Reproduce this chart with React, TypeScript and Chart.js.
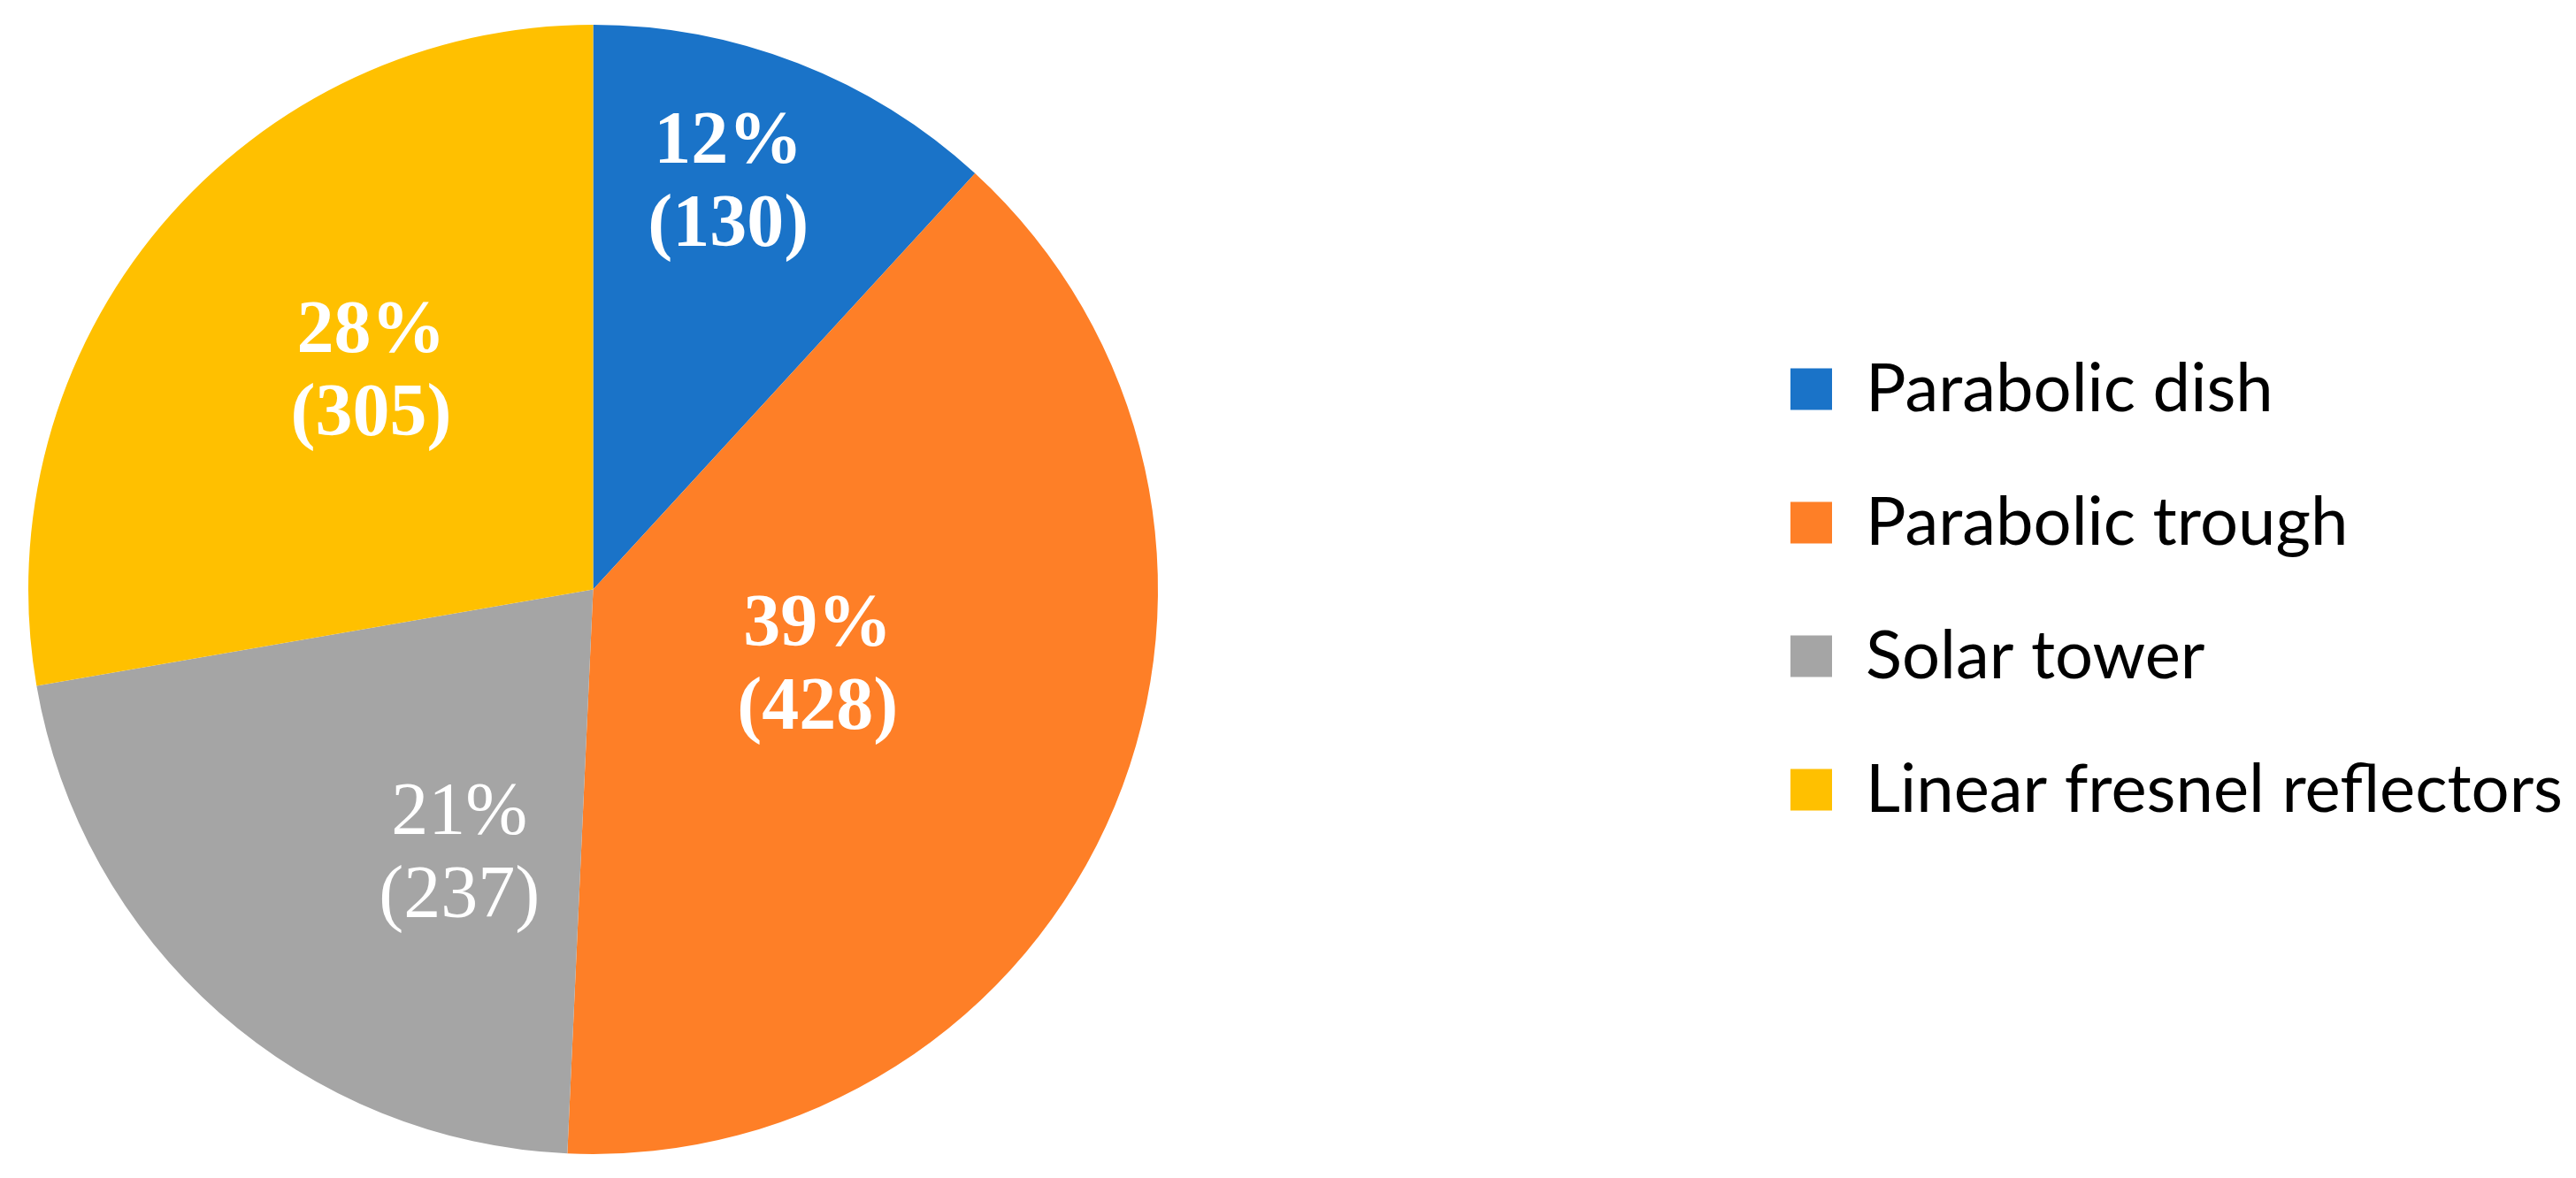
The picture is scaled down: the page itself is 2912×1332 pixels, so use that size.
import React, { useEffect, useRef } from 'react';
import { Chart, registerables } from 'chart.js';

Chart.register(...registerables);

// ---- data ----
const categories = ['Parabolic dish', 'Parabolic trough', 'Solar tower', 'Linear fresnel reflectors'];
const counts = [130, 428, 237, 305];
const percentLabels = ['12%', '39%', '21%', '28%'];

// ---- styling ----
const sliceColors = ['#1a73c8', '#fe7f27', '#a5a5a5', '#ffc000'];
const labelBold = [true, true, false, true];
// where each data label sits inside its slice: fraction of the slice's sweep, fraction of the radius
const labelSweepFrac = [0.431, 0.471, 0.313, 0.544];
const labelRadiusFrac = [0.76, 0.419, 0.524, 0.551];

const W = 2912;
const H = 1332;
const PAD_TOP = 28;
const PAD_BOTTOM = 27;
const PAD_LEFT = 32;
const PIE_RIGHT = 1309;
const LEGEND_BOX_LEFT = 2024;
const LEGEND_BOX = 47;
const LEGEND_ROW_STEP = 151;
const LEGEND_TARGET_W = 790;
const LEGEND_FAMILY = 'Lato';
const LABEL_FONT = 84;
const LABEL_LINE = 94;

export default function App() {
  const ref = useRef<HTMLCanvasElement | null>(null);

  useEffect(() => {
    const canvas = ref.current;
    if (!canvas) return;

    const m = document.createElement('canvas').getContext('2d')!;
    m.font = `100px ${LEGEND_FAMILY}`;
    const w100 = Math.max(...categories.map((c) => m.measureText(c).width));
    const fontSize = Math.round((100 * LEGEND_TARGET_W) / w100);
    m.font = `${fontSize}px ${LEGEND_FAMILY}`;
    const textW = Math.max(...categories.map((c) => m.measureText(c).width));
    const lpad = LEGEND_ROW_STEP - Math.max(fontSize, LEGEND_BOX);
    const legendWidth = lpad + LEGEND_BOX + fontSize / 2 + textW + 10;
    const padRight = Math.max(0, W - PIE_RIGHT - legendWidth);

    // move the legend block to its place on the right, leaving the pie where the layout put it
    const legendShift = {
      id: 'legendShift',
      afterLayout(chart: any) {
        const lg = chart.legend;
        if (!lg) return;
        const targetLeft = LEGEND_BOX_LEFT - lpad;
        const d = targetLeft - lg.left;
        lg.left += d;
        lg.right += d;
      },
    };

    const labelPlugin = {
      id: 'sliceLabels',
      afterDatasetsDraw(chart: any) {
        const ctx = chart.ctx;
        const meta = chart.getDatasetMeta(0);
        ctx.save();
        ctx.fillStyle = '#ffffff';
        ctx.textAlign = 'center';
        ctx.textBaseline = 'alphabetic';
        meta.data.forEach((arc: any, i: number) => {
          const p = arc.getProps(['x', 'y', 'startAngle', 'endAngle', 'outerRadius'], true);
          const a = p.startAngle + (p.endAngle - p.startAngle) * labelSweepFrac[i];
          const r = p.outerRadius * labelRadiusFrac[i];
          const cx = p.x + Math.cos(a) * r;
          const cy = p.y + Math.sin(a) * r;
          ctx.font = `${labelBold[i] ? 'bold ' : ''}${LABEL_FONT}px "Liberation Serif", "Times New Roman", serif`;
          const capHalf = LABEL_FONT * 0.3;
          ctx.fillText(percentLabels[i], cx, cy - LABEL_LINE / 2 + capHalf);
          ctx.fillText(`(${counts[i]})`, cx, cy + LABEL_LINE / 2 + capHalf);
        });
        ctx.restore();
      },
    };

    const chart = new Chart(canvas, {
      type: 'pie',
      data: {
        labels: categories,
        datasets: [
          {
            data: counts,
            backgroundColor: sliceColors,
            borderWidth: 0,
          },
        ],
      },
      options: {
        responsive: false,
        animation: false,
        devicePixelRatio: 1,
        layout: {
          padding: { top: PAD_TOP, bottom: PAD_BOTTOM, left: PAD_LEFT, right: padRight },
        },
        plugins: {
          tooltip: { enabled: false },
          legend: {
            display: true,
            position: 'right',
            align: 'center',
            labels: {
              boxWidth: LEGEND_BOX,
              boxHeight: LEGEND_BOX,
              padding: lpad,
              color: '#000000',
              font: { family: LEGEND_FAMILY, size: fontSize },
            },
          },
        },
      },
      plugins: [legendShift as any, labelPlugin as any],
    });

    return () => chart.destroy();
  }, []);

  return (
    <div style={{ position: 'absolute', left: 0, top: 0, width: W, height: H, background: '#ffffff' }}>
      <canvas ref={ref} width={W} height={H} style={{ display: 'block', width: W, height: H }} />
    </div>
  );
}
